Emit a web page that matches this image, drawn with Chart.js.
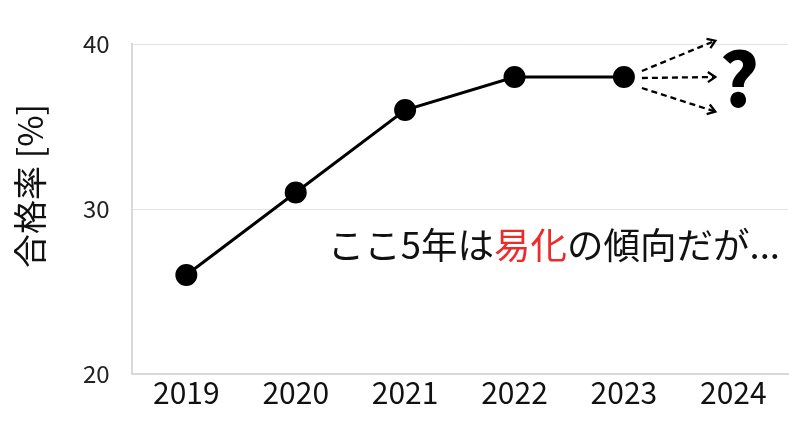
<!DOCTYPE html>
<html>
<head>
<meta charset="utf-8">
<script src="https://cdn.jsdelivr.net/npm/chart.js@4"></script>
<style>
  html, body { margin: 0; padding: 0; background: #fff; }
  #wrap { width: 810px; height: 433px; }
</style>
</head>
<body>
<div id="wrap"><canvas id="passRate"></canvas></div>
<script>
var years = ['2019', '2020', '2021', '2022', '2023', '2024'];
var passRate = [26, 31, 36, 38, 38, null];
var yTicks = [20, 30, 40];
var yTitle = '合格率 [%]';
// where the three guess arrows point (value at 2024)
var guessValues = [40.2, 38, 35.9];
var noteParts = [
    { text: 'ここ5年は', color: '#111' },
    { text: '易化', color: '#ee2b2b' },
    { text: 'の傾向だが...', color: '#111' }
];

var JP = '"Noto Sans CJK JP", "Noto Sans", sans-serif';

var guessPlugin = {
    id: 'guess',
    afterDatasetsDraw: function (chart) {
        var ctx = chart.ctx;
        var x = chart.scales.x, y = chart.scales.y;
        var area = chart.chartArea;
        var x0 = x.getPixelForValue(4) + 18;
        var y0 = y.getPixelForValue(passRate[4]);
        var x1 = x.getPixelForValue(5) - 18;
        ctx.save();
        ctx.strokeStyle = '#000';
        ctx.lineWidth = 2.3;
        var starts = [-6, 1, 11];
        guessValues.forEach(function (v, i) {
            var sy = y0 + starts[i];
            var ey = y.getPixelForValue(v);
            ctx.setLineDash([6, 4]);
            ctx.beginPath();
            ctx.moveTo(x0, sy);
            ctx.lineTo(x1, ey);
            ctx.stroke();
            // arrow head
            var a = Math.atan2(ey - sy, x1 - x0);
            ctx.setLineDash([]);
            ctx.beginPath();
            ctx.moveTo(x1 - 9 * Math.cos(a - 0.6), ey - 9 * Math.sin(a - 0.6));
            ctx.lineTo(x1, ey);
            ctx.lineTo(x1 - 9 * Math.cos(a + 0.6), ey - 9 * Math.sin(a + 0.6));
            ctx.stroke();
        });

        ctx.fillStyle = '#000';
        ctx.font = '900 74px ' + JP;
        ctx.textAlign = 'center';
        ctx.textBaseline = 'middle';
        ctx.fillText('?', x.getPixelForValue(5) + 6, y.getPixelForValue(38) + 2);

        // note text
        ctx.font = '36.5px ' + JP;
        ctx.textAlign = 'left';
        ctx.textBaseline = 'middle';
        var total = 0;
        noteParts.forEach(function (p) { total += ctx.measureText(p.text).width; });
        var tx = area.right - 8 - total;
        var ty = y.getPixelForValue(27.8);
        noteParts.forEach(function (p) {
            ctx.fillStyle = p.color;
            ctx.fillText(p.text, tx, ty);
            tx += ctx.measureText(p.text).width;
        });

        // y axis title, sits a little above the middle of the plot
        ctx.translate(30, (area.top + area.bottom) / 2 - 23);
        ctx.rotate(-Math.PI / 2);
        ctx.fillStyle = '#111';
        ctx.font = '34px ' + JP;
        ctx.textAlign = 'center';
        ctx.fillText(yTitle, 0, 0);
        ctx.restore();
    }
};

new Chart(document.getElementById('passRate').getContext('2d'), {
    type: 'line',
    data: {
        labels: years,
        datasets: [{
            data: passRate,
            borderColor: '#000',
            backgroundColor: '#000',
            borderWidth: 3,
            pointRadius: 9.5,
            pointHoverRadius: 9.5,
            tension: 0
        }]
    },
    options: {
        responsive: true,
        maintainAspectRatio: false,
        animation: false,
        layout: { padding: { top: 44, right: 22, left: 61, bottom: 21 } },
        plugins: {
            legend: { display: false },
            tooltip: { enabled: false }
        },
        scales: {
            x: {
                offset: true,
                grid: { display: false, drawTicks: false },
                border: { color: '#d9d9d9', width: 2 },
                ticks: { color: '#111', font: { family: JP, size: 30 }, padding: 1 }
            },
            y: {
                min: 20,
                max: 40,
                afterBuildTicks: function (axis) {
                    axis.ticks = yTicks.map(function (v) { return { value: v }; });
                },
                grid: { color: '#e3e3e3', lineWidth: 1, drawTicks: false },
                border: { color: '#d9d9d9', width: 2 },
                ticks: { color: '#222', font: { family: JP, size: 24 }, padding: 22 }
            }
        }
    },
    plugins: [guessPlugin]
});
</script>
</body>
</html>
